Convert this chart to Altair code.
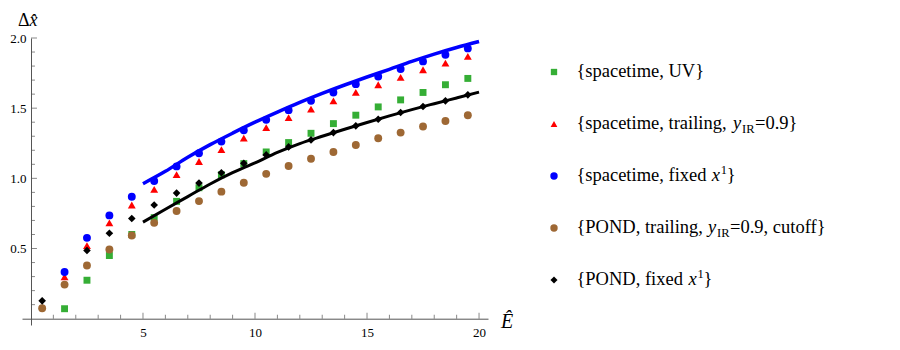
import altair as alt
import pandas as pd

# ---------------- data ----------------
E = [0.5, 1.5, 2.5, 3.5, 4.5, 5.5, 6.5, 7.5, 8.5, 9.5,
     10.5, 11.5, 12.5, 13.5, 14.5, 15.5, 16.5, 17.5, 18.5, 19.5]

st_uv = [None, 0.071, 0.274, 0.450, 0.600, 0.720, 0.836, 0.933, 1.025, 1.105,
         1.188, 1.255, 1.321, 1.390, 1.450, 1.509, 1.559, 1.612, 1.667, 1.712]
st_trailing = [None, 0.298, 0.520, 0.683, 0.810, 0.921, 1.026, 1.120, 1.205, 1.286,
               1.362, 1.433, 1.493, 1.552, 1.612, 1.667, 1.719, 1.774, 1.821, 1.869]
st_fixed = [None, 0.333, 0.576, 0.736, 0.869, 0.981, 1.085, 1.179, 1.262, 1.343,
            1.417, 1.486, 1.552, 1.612, 1.671, 1.726, 1.779, 1.833, 1.881, 1.926]
pond_trailing = [0.074, 0.243, 0.379, 0.493, 0.593, 0.683, 0.767, 0.838, 0.905, 0.969,
                 1.032, 1.088, 1.140, 1.188, 1.238, 1.286, 1.326, 1.369, 1.409, 1.450]
pond_fixed = [0.127, None, 0.486, 0.609, 0.714, 0.810, 0.895, 0.966, 1.040, 1.107,
              1.167, 1.224, 1.274, 1.326, 1.374, 1.421, 1.469, 1.512, 1.552, 1.595]

fit_E = [5, 6, 7, 8, 9, 10, 11, 12, 13, 14, 15, 16, 17, 18, 19, 20]
fit_blue = [0.962, 1.050, 1.150, 1.240, 1.322, 1.400, 1.472, 1.541, 1.605, 1.665,
            1.722, 1.777, 1.833, 1.885, 1.932, 1.975]
fit_black = [0.688, 0.780, 0.870, 0.960, 1.040, 1.110, 1.185, 1.248, 1.300, 1.350,
             1.398, 1.445, 1.490, 1.532, 1.573, 1.614]

x_major = [5, 10, 15, 20]
x_minor = [1, 2, 3, 4, 6, 7, 8, 9, 11, 12, 13, 14, 16, 17, 18, 19]
y_major = [0.5, 1.0, 1.5, 2.0]
y_minor = [0.1, 0.2, 0.3, 0.4, 0.6, 0.7, 0.8, 0.9, 1.1, 1.2, 1.3, 1.4,
           1.6, 1.7, 1.8, 1.9]

series_names = ["{spacetime, UV}", "{spacetime, trailing, yIR=0.9}",
                "{spacetime, fixed x1}", "{POND, trailing, yIR=0.9, cutoff}",
                "{POND, fixed x1}"]
series_vals = [st_uv, st_trailing, st_fixed, pond_trailing, pond_fixed]
series_colors = ["#35AE35", "#FF0000", "#0000FF", "#9E6834", "#000000"]
series_shapes = ["square", "triangle-up", "circle", "circle", "diamond"]
series_sizes = [48, 62, 62, 62, 58]

# ---------------- styling ----------------
SERIF = "Liberation Serif"
AX = "#555555"
W, H = 466, 287
LFS = 18.5  # legend font size
xs = alt.Scale(domain=[-0.4, 20.4], nice=False, zero=False)
ys = alt.Scale(domain=[-0.045, 2.0], nice=False, zero=False)
x_axis = alt.Axis(values=x_major, title=None, ticks=False, tickSize=0, grid=False,
                  offset=-6.3, labelPadding=8, domainColor=AX, labelFont=SERIF,
                  labelFontSize=13, labelColor="black")
y_axis = alt.Axis(values=y_major, format=".1f", title=None, ticks=False, tickSize=0,
                  grid=False, offset=-9, labelPadding=5, domainColor=AX,
                  labelFont=SERIF, labelFontSize=13, labelColor="black")


def X(f):
    return alt.X(f, type="quantitative", scale=xs, axis=x_axis)


def Y(f):
    return alt.Y(f, type="quantitative", scale=ys, axis=y_axis)


layers = []

# inward tick marks
xt_maj = pd.DataFrame({"t": x_major, "z": [0.0] * len(x_major)})
xt_min = pd.DataFrame({"t": x_minor, "z": [0.0] * len(x_minor)})
yt_maj = pd.DataFrame({"t": y_major, "z": [0.0] * len(y_major)})
yt_min = pd.DataFrame({"t": y_minor, "z": [0.0] * len(y_minor)})
layers.append(alt.Chart(xt_maj).mark_tick(orient="vertical", size=6, yOffset=-3,
                                          thickness=1, color=AX)
              .encode(x=X("t"), y=Y("z")))
layers.append(alt.Chart(xt_min).mark_tick(orient="vertical", size=4, yOffset=-2,
                                          thickness=1, color=AX)
              .encode(x=X("t"), y=Y("z")))
layers.append(alt.Chart(yt_maj).mark_tick(orient="horizontal", size=6, xOffset=3,
                                          thickness=1, color=AX)
              .encode(x=X("z"), y=Y("t")))
layers.append(alt.Chart(yt_min).mark_tick(orient="horizontal", size=4, xOffset=2,
                                          thickness=1, color=AX)
              .encode(x=X("z"), y=Y("t")))

# data points
for name, vals, col, shp, sz in zip(series_names, series_vals, series_colors,
                                    series_shapes, series_sizes):
    df = pd.DataFrame({"E": E, "v": vals}).dropna()
    layers.append(alt.Chart(df).mark_point(filled=True, opacity=1, shape=shp,
                                           size=sz, color=col, strokeWidth=0)
                  .encode(x=X("E"), y=Y("v")))

# fit curves
df_fb = pd.DataFrame({"E": fit_E, "v": fit_blue})
df_fk = pd.DataFrame({"E": fit_E, "v": fit_black})
layers.append(alt.Chart(df_fb).mark_line(color="#0000FF", strokeWidth=3.5,
                                         interpolate="monotone")
              .encode(x=X("E"), y=Y("v")))
layers.append(alt.Chart(df_fk).mark_line(color="#000000", strokeWidth=3.0,
                                         interpolate="monotone")
              .encode(x=X("E"), y=Y("v")))

one = pd.DataFrame({"a": [0]})


def txt(s, x, y, size=LFS, style="normal", align="left"):
    return (alt.Chart(one)
            .mark_text(text=s, font=SERIF, fontSize=size, fontStyle=style,
                       align=align, baseline="alphabetic", color="black")
            .encode(x=alt.value(x), y=alt.value(y)))


# axis titles
layers.append(txt("\u0394", -4, -12, size=18))
layers.append(txt("x\u0302", 7.5, -12, size=18, style="italic"))
layers.append(txt("\u00CA", 479, 290, size=20, style="italic"))

# manual legend
sym_x = 532
rows_y = [34, 86, 138, 190, 242]
leg_sizes = [40, 45, 55, 55, 50]
for yy, col, shp, sz in zip(rows_y, series_colors, series_shapes, leg_sizes):
    layers.append(alt.Chart(one).mark_point(filled=True, opacity=1, shape=shp,
                                            size=sz, color=col, strokeWidth=0)
                  .encode(x=alt.value(sym_x), y=alt.value(yy)))

tx = 554.4
legend_segments = [
    (rows_y[0], [("{spacetime, UV}", tx, "n")]),
    (rows_y[1], [("{spacetime, trailing, ", tx, "n"), ("y", 711.0, "i"),
                 ("IR", 720.0, "sub"), ("=0.9}", 733.0, "n")]),
    (rows_y[2], [("{spacetime, fixed ", tx, "n"), ("x", 689.7, "i"),
                 ("1", 698.8, "sup"), ("}", 704.8, "n")]),
    (rows_y[3], [("{POND, trailing, ", tx, "n"), ("y", 686.0, "i"),
                 ("IR", 695.0, "sub"), ("=0.9, cutoff}", 708.0, "n")]),
    (rows_y[4], [("{POND, fixed ", tx, "n"), ("x", 666.5, "i"),
                 ("1", 675.6, "sup"), ("}", 681.6, "n")]),
]
for yy, segs in legend_segments:
    base = yy + 5
    for s, xx, kind in segs:
        if kind == "n":
            layers.append(txt(s, xx, base))
        elif kind == "i":
            layers.append(txt(s, xx, base, style="italic"))
        elif kind == "sub":
            layers.append(txt(s, xx, base + 4, size=12.5))
        else:
            layers.append(txt(s, xx, base - 7.5, size=12.5))

chart = (alt.layer(*layers)
         .properties(width=W, height=H, autosize="none",
                     padding={"left": 14, "top": 30, "right": 404, "bottom": 17})
         .configure_view(stroke=None))

chart.save("out.html", embed_options={"renderer": "svg", "actions": False})
